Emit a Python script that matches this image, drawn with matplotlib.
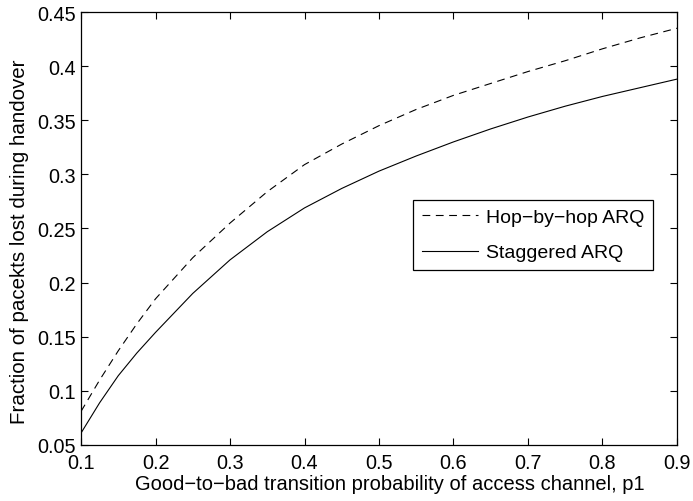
import matplotlib

matplotlib.use("Agg")
import matplotlib.pyplot as plt

plt.rcParams["font.family"] = ["Liberation Sans", "DejaVu Sans"]

# transition probability p1
p1 = [0.100, 0.125, 0.150, 0.175, 0.20, 0.25, 0.30, 0.35, 0.40, 0.45, 0.50,
      0.55, 0.60, 0.65, 0.70, 0.75, 0.80, 0.85, 0.90]
hop_by_hop = [0.081, 0.110, 0.137, 0.162, 0.185, 0.223, 0.255, 0.284, 0.309, 0.328, 0.345,
              0.360, 0.373, 0.384, 0.395, 0.405, 0.416, 0.426, 0.435]
staggered = [0.061, 0.089, 0.114, 0.135, 0.154, 0.190, 0.221, 0.247, 0.269, 0.287, 0.303,
             0.317, 0.330, 0.342, 0.353, 0.363, 0.372, 0.380, 0.388]

xticks = [0.1, 0.2, 0.3, 0.4, 0.5, 0.6, 0.7, 0.8, 0.9]
yticks = [0.05, 0.1, 0.15, 0.2, 0.25, 0.3, 0.35, 0.4, 0.45]

fig = plt.figure(figsize=(6.93, 5.02), dpi=100)
ax = fig.add_axes([0.1169, 0.1116, 0.860, 0.8625])

ax.plot(p1, hop_by_hop, color="black", linewidth=0.8, dashes=[7, 5], label="Hop\u2212by\u2212hop ARQ")
ax.plot(p1, staggered, color="black", linewidth=0.8, label="Staggered ARQ")

ax.set_xlim(0.1, 0.9)
ax.set_ylim(0.05, 0.45)
ax.set_xticks(xticks)
ax.set_yticks(yticks)
ax.set_xticklabels([f"{v:g}" for v in xticks])
ax.set_yticklabels([f"{v:g}" for v in yticks])
ax.tick_params(direction="in", length=5, width=0.8, top=True, right=True, labelsize=14.3)
ax.tick_params(axis="x", pad=6)
ax.tick_params(axis="y", pad=4)
for spine in ax.spines.values():
    spine.set_linewidth(0.9)

ax.set_xlabel("Good\u2212to\u2212bad transition probability of access channel, p1", fontsize=14.5)
ax.set_ylabel("Fraction of pacekts lost during handover", fontsize=14.8)
ax.xaxis.set_label_coords(0.518, -0.068)
ax.yaxis.set_label_coords(-0.087, 0.472)

leg = ax.legend(loc="upper left", bbox_to_anchor=(0.557, 0.566), borderaxespad=0, fontsize=14,
                handlelength=2.9, handletextpad=0.4, fancybox=False, framealpha=1,
                edgecolor="black", borderpad=0.45, labelspacing=0.9)
leg.get_frame().set_linewidth(0.9)

fig.savefig("out.png", dpi=100)
